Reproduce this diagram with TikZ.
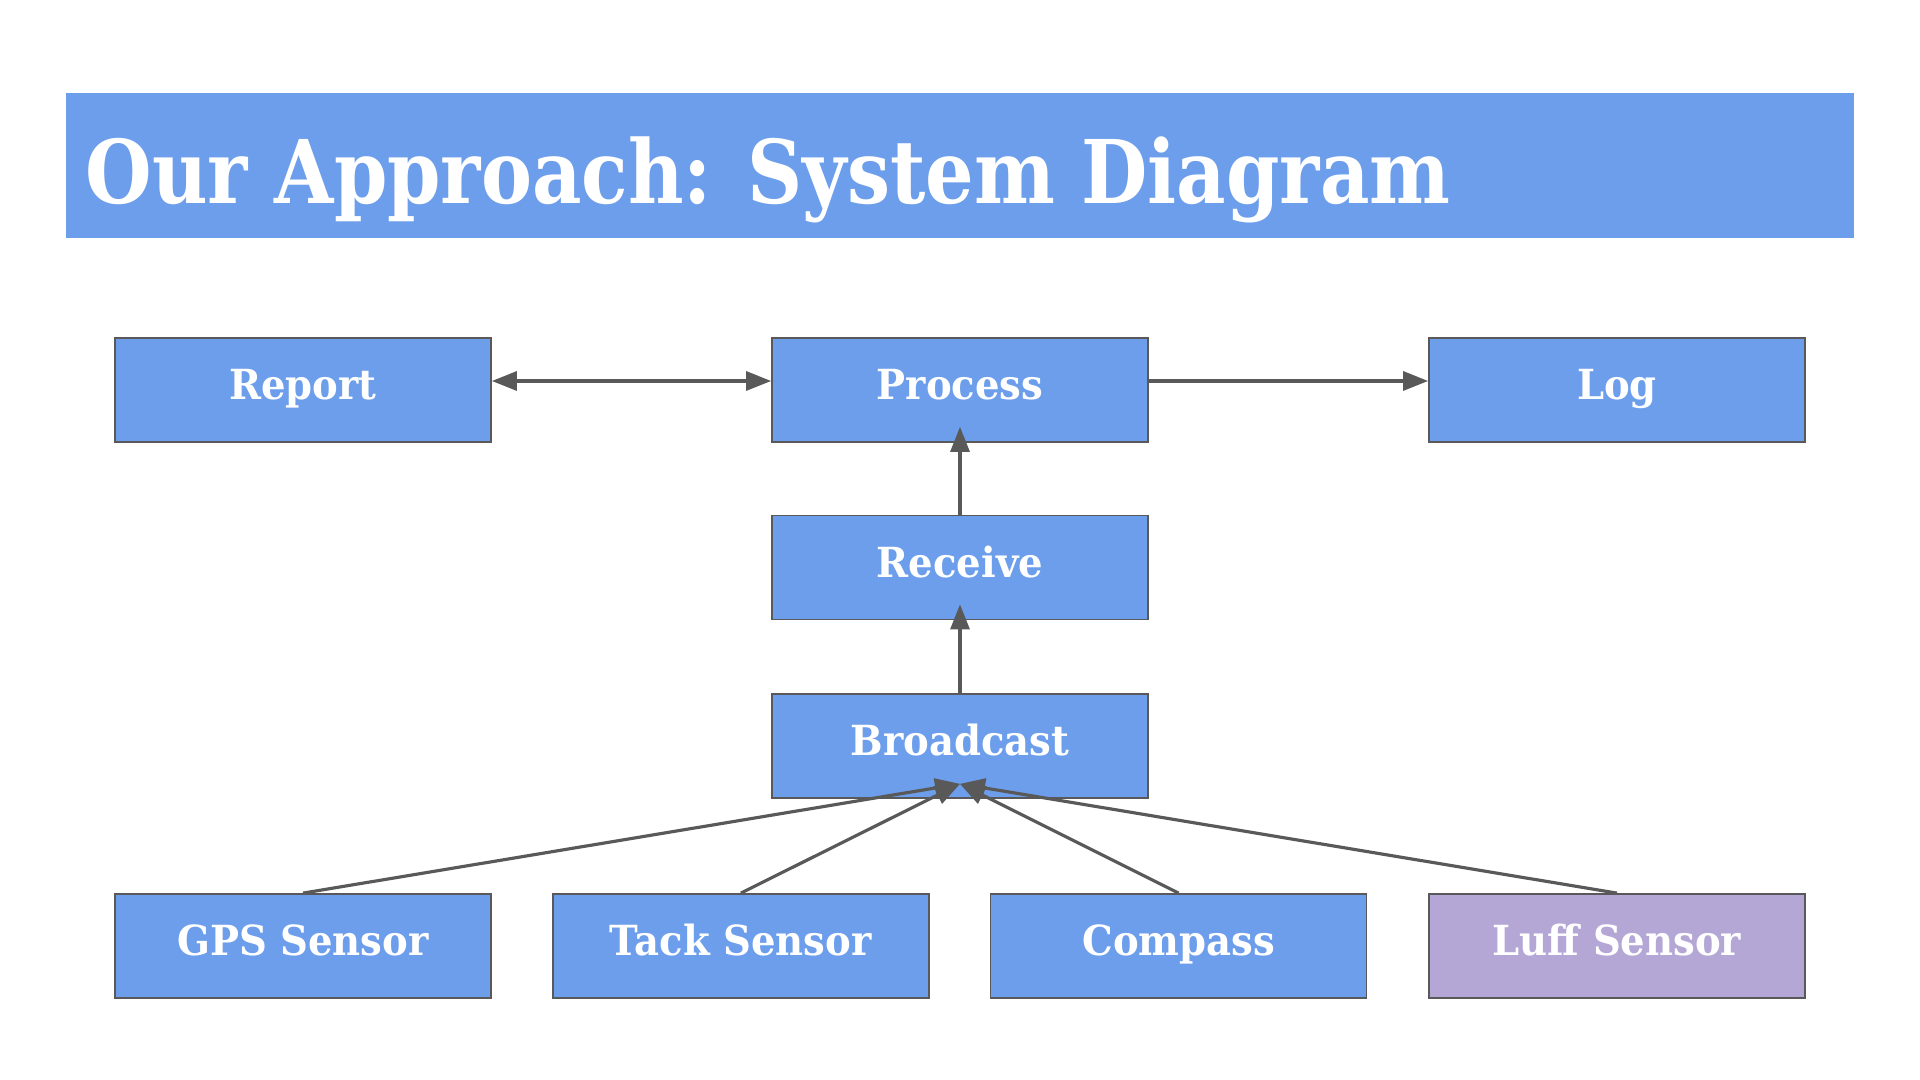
\documentclass[tikz,border=0pt]{standalone}
\usepackage{fontspec}
\usetikzlibrary{arrows.meta}
\newfontfamily\slabfont[FakeStretch=0.93]{DejaVu Serif}
\newfontfamily\titlefont[FakeStretch=0.87]{DejaVu Serif}
\definecolor{boxblue}{HTML}{6D9EEB}
\definecolor{luffpurple}{HTML}{B4A7D6}
\definecolor{linegray}{HTML}{595959}

\begin{document}
\begin{tikzpicture}[
    block/.style={draw=linegray, line width=0.5pt, fill=boxblue, text=white,
      minimum width=3.76cm, minimum height=1.04cm, inner sep=0pt,
      text height=0.3cm, text depth=0.106cm,
      font=\slabfont\bfseries\fontsize{11.8}{14}\selectfont},
    link/.style={draw=linegray, line width=0.9pt,
      -{Triangle[length=2.5mm,width=1.9mm]}},
    bilink/.style={link, {Triangle[length=2.5mm,width=1.9mm]}-{Triangle[length=2.5mm,width=1.9mm]}}
  ]
  \useasboundingbox (0,0) rectangle (19.2,10.8);

  % title bar
  \fill[boxblue] (0.657,8.423) rectangle (18.539,9.869);
  \node[anchor=base west, inner sep=0pt, text=white,
        font=\titlefont\bfseries\fontsize{25}{30}\selectfont] (title) at (0.85,8.767)
        {Our Approach: System Diagram};

  % top row
  \node[block] (report)  at (3.03,6.9)  {Report};
  \node[block] (process) at (9.6,6.9)   {Process};
  \node[block] (log)     at (16.17,6.9) {Log};

  % middle column
  \node[block] (receive)   at (9.6,5.125) {Receive};
  \node[block] (broadcast) at (9.6,3.34)  {Broadcast};

  % sensors
  \node[block] (gps)     at (3.03,1.34)   {GPS Sensor};
  \node[block] (tack)    at (7.408,1.34)  {Tack Sensor};
  \node[block] (compass) at (11.786,1.34) {Compass};
  \node[block, fill=luffpurple] (luff) at (16.17,1.34) {Luff Sensor};

  \coordinate (bc) at ([yshift=1.5mm]broadcast.south);

  \draw[bilink] ([yshift=0.9mm]report.east) -- ([yshift=0.9mm]process.west);
  \draw[link] ([yshift=0.9mm]process.east) -- ([yshift=0.9mm]log.west);
  \draw[link, shorten >=-1.6mm] (receive.north) -- (process.south);
  \draw[link, shorten >=-1.6mm] (broadcast.north) -- (receive.south);
  \foreach \s in {gps,tack,compass,luff}
    \draw[link] (\s.north) -- (bc);
\end{tikzpicture}
\end{document}
